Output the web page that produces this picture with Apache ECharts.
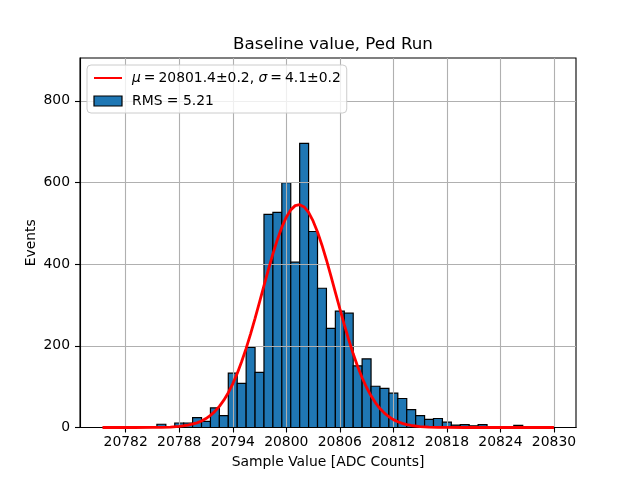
<!DOCTYPE html>
<html>
<head>
<meta charset="utf-8">
<script src="https://cdn.jsdelivr.net/npm/echarts@6/dist/echarts.min.js"></script>
<style>
html,body{margin:0;padding:0;background:#fff;}
#c{width:640px;height:480px;}
</style>
</head>
<body>
<div id="c"></div>
<script>
// ---- data ----
const binCenters = [20786,20787,20788,20789,20790,20791,20792,20793,20794,20795,20796,20797,20798,20799,20800,20801,20802,20803,20804,20805,20806,20807,20808,20809,20810,20811,20812,20813,20814,20815,20816,20817,20818,20819,20820,20821,20822,20823,20824,20825,20826];
const counts = [8,0,11,11,24,15,48,29,133,108,196,135,522,527,600,405,696,480,341,243,285,280,151,168,101,96,84,71,44,29,20,22,13,6,7,4,7,2,0,0,5];
const binWidth = 1;
const fitX = [20779.4,20781,20783,20785,20786,20787,20788,20789,20790,20790.5,20791,20791.5,20792,20792.5,20793,20793.5,20794,20794.5,20795,20795.5,20796,20796.5,20797,20797.5,20798,20798.5,20799,20799.5,20800,20800.5,20801,20801.5,20802,20802.5,20803,20803.5,20804,20804.5,20805,20805.5,20806,20806.5,20807,20807.5,20808,20808.5,20809,20809.5,20810,20810.5,20811,20811.5,20812,20812.5,20813,20813.5,20814,20815,20816,20817,20818,20820,20825,20830];
const fitY = [0,0,0,0.2,0.5,1.1,2.6,5.6,11.4,15.9,21.9,29.6,39.4,51.8,66.9,85.3,107.1,132.5,161.5,193.9,229.4,267.3,307.0,347.3,387.2,425.2,460.0,490.4,515.1,533.0,543.4,545.8,540.2,526.7,506.0,478.9,446.5,410.3,371.3,331.2,291.0,251.9,214.8,180.5,149.4,121.9,98.0,77.6,60.5,46.5,35.2,26.3,19.3,14.0,10.0,7.0,4.9,2.2,1.0,0.4,0.1,0,0,0];
const xTicks = [20782,20788,20794,20800,20806,20812,20818,20824,20830];
const yTicks = [0,200,400,600,800];
const fitName = 'μ = 20801.4±0.2, σ = 4.1±0.2';
const histName = 'RMS = 5.21';
const titleText = 'Baseline value, Ped Run';
const xName = 'Sample Value [ADC Counts]';
const yName = 'Events';
const xRange = [20776.88, 20832.47];
const yRange = [0, 905];

// ---- chart ----
const FONT = 'DejaVu Sans';
const chart = echarts.init(document.getElementById('c'), null, {renderer:'canvas'});
const histData = binCenters.map((c, i) => [c, counts[i]]);
const fitData = fitX.map((x, i) => [x, fitY[i]]);

chart.setOption({
  animation: false,
  backgroundColor: '#ffffff',
  title: {
    text: titleText, left: 328, top: 31, textAlign: 'center',
    textStyle: {fontFamily: FONT, fontSize: 16.7, fontWeight: 'normal', color: '#000'}
  },
  grid: {left: 80, top: 58, width: 496, height: 369.5, show: true, borderColor: '#000', borderWidth: 1.1, backgroundColor: 'transparent'},
  legend: {
    orient: 'vertical', left: 87, top: 65, z: 10,
    padding: [5, 6, 4, 6], itemGap: 7, itemWidth: 28, itemHeight: 10,
    backgroundColor: 'rgba(255,255,255,0.8)', borderColor: '#cccccc', borderWidth: 1, borderRadius: 4,
    data: [
      {name: fitName, itemStyle: {opacity: 0}},
      {name: histName, icon: 'rect', itemStyle: {color: '#1f77b4', borderColor: '#000', borderWidth: 1.2}}
    ],
    formatter: n => n === fitName ? n.replace(/([μσ])/g, '{i|$1}').replace(/ = /g, '{eq|=}') : n,
    textStyle: {
      fontFamily: FONT, fontSize: 13.9, color: '#000', lineHeight: 16, padding: [0, 0, 0, 5],
      rich: {
        i: {fontFamily: FONT, fontSize: 13.9, fontStyle: 'italic', color: '#000', lineHeight: 16},
        eq: {fontFamily: FONT, fontSize: 13.9, color: '#000', lineHeight: 16, padding: [0, 3, 0, 3]}
      }
    }
  },
  xAxis: {
    type: 'value', min: xRange[0], max: xRange[1], z: 3,
    name: xName, nameLocation: 'middle', nameGap: 28, nameMoveOverlap: false,
    nameTextStyle: {fontFamily: FONT, fontSize: 13.9, color: '#000'},
    axisLine: {show: true, lineStyle: {color: '#000', width: 1.1}},
    axisTick: {show: true, inside: false, length: 5, customValues: xTicks, lineStyle: {color: '#000', width: 1.1}},
    axisLabel: {show: true, margin: 8, customValues: xTicks, fontFamily: FONT, fontSize: 13.9, color: '#000', formatter: v => String(v)},
    splitLine: {show: true, lineStyle: {color: '#b0b0b0', width: 1.1}}
  },
  yAxis: {
    type: 'value', min: yRange[0], max: yRange[1], z: 3,
    name: yName, nameLocation: 'middle', nameGap: 42, nameRotate: 90, nameMoveOverlap: false,
    nameTextStyle: {fontFamily: FONT, fontSize: 13.9, color: '#000'},
    axisLine: {show: true, lineStyle: {color: '#000', width: 1.1}},
    axisTick: {show: true, inside: false, length: 5, customValues: yTicks, lineStyle: {color: '#000', width: 1.1}},
    axisLabel: {show: true, margin: 10, customValues: yTicks, fontFamily: FONT, fontSize: 13.9, color: '#000'},
    splitLine: {show: true, lineStyle: {color: '#b0b0b0', width: 1.1}}
  },
  series: [
    {
      name: histName, type: 'custom', z: 2,
      data: histData, encode: {x: 0, y: 1},
      itemStyle: {color: '#1f77b4', borderColor: '#000', borderWidth: 1.2},
      renderItem: (params, api) => {
        const c = api.value(0), v = api.value(1);
        if (!v) return null;
        const p0 = api.coord([c - binWidth / 2, v]);
        const p1 = api.coord([c + binWidth / 2, 0]);
        return {
          type: 'rect',
          shape: {x: p0[0], y: p0[1], width: p1[0] - p0[0], height: p1[1] - p0[1]},
          style: {fill: '#1f77b4', stroke: '#000', lineWidth: 1.2}
        };
      }
    },
    {
      name: fitName, type: 'line', z: 4, data: fitData,
      symbol: 'none', smooth: false,
      lineStyle: {color: '#ff0000', width: 2.8},
      itemStyle: {color: '#ff0000'}
    }
  ]
});
</script>
</body>
</html>
